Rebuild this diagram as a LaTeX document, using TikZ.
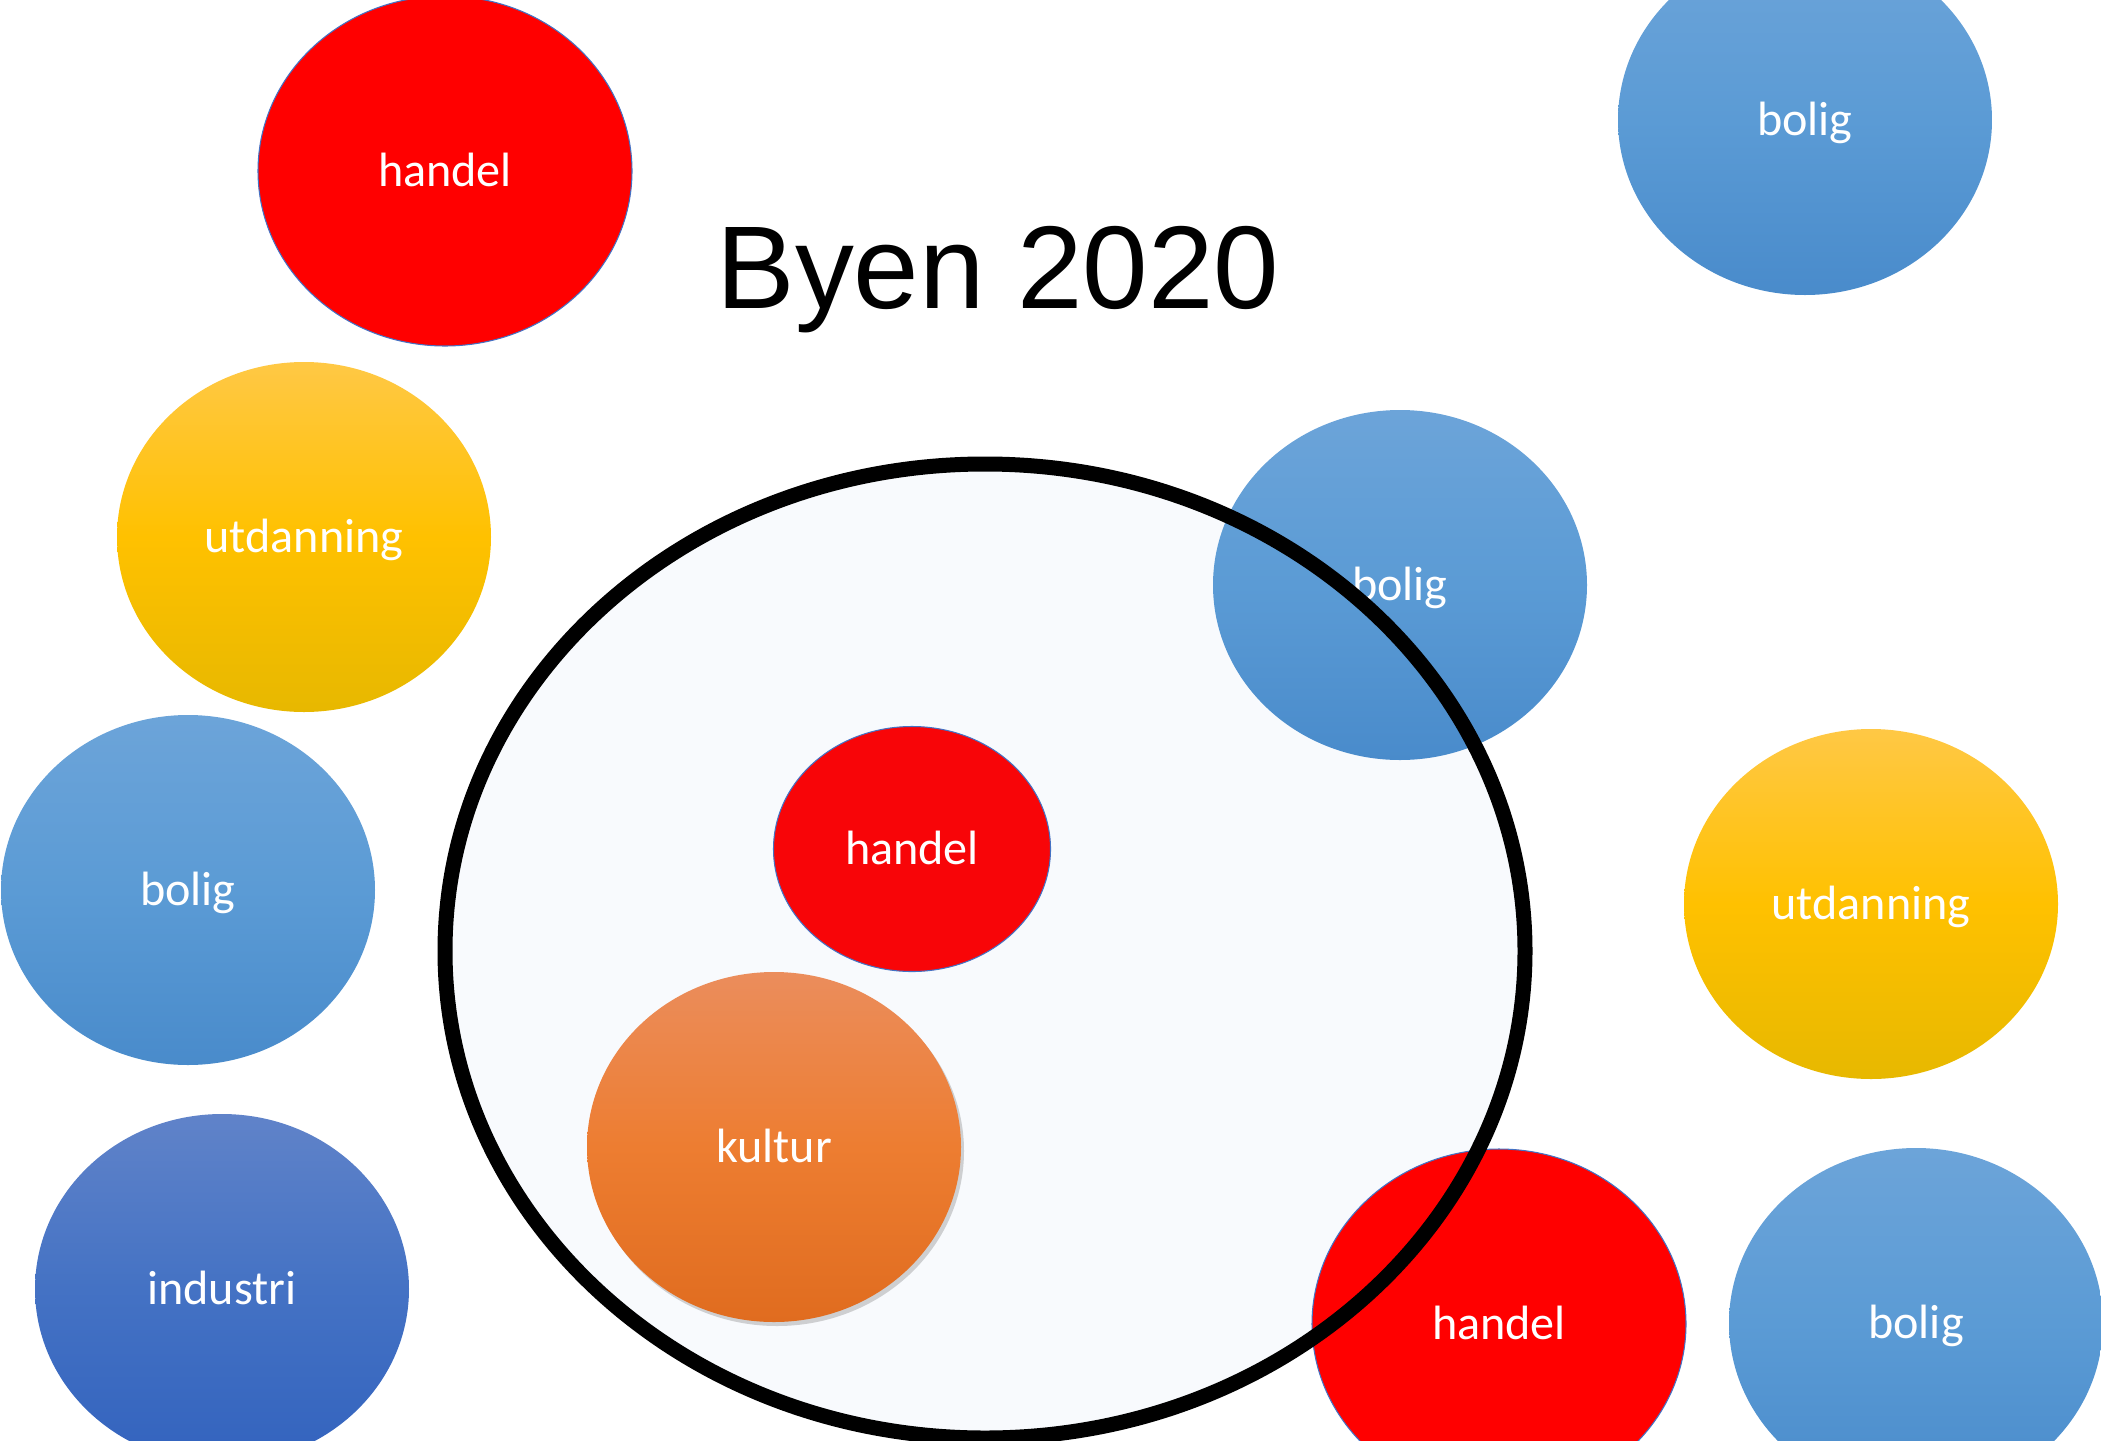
\documentclass[tikz,border=0pt]{standalone}
\usepackage{fontspec}
\setmainfont{Carlito}
\newfontfamily\titlefont{Liberation Sans}
\usetikzlibrary{shapes.geometric}
\usetikzlibrary{shadows}
\usetikzlibrary{backgrounds}
\definecolor{hnd1}{RGB}{255,0,0}
\definecolor{hnd2}{RGB}{248,5,8}
\definecolor{ol1}{RGB}{68,114,196}
\definecolor{bol1}{RGB}{108,164,217}
\definecolor{bol2}{RGB}{91,155,213}
\definecolor{bol3}{RGB}{73,139,203}
\definecolor{ind1}{RGB}{96,131,201}
\definecolor{ind2}{RGB}{68,114,196}
\definecolor{ind3}{RGB}{51,99,190}
\definecolor{utd1}{RGB}{255,200,69}
\definecolor{utd2}{RGB}{255,193,0}
\definecolor{utd3}{RGB}{231,184,0}
\definecolor{kul1}{RGB}{235,141,92}
\definecolor{kul2}{RGB}{237,125,49}
\definecolor{kul3}{RGB}{224,108,31}
\definecolor{bg1}{RGB}{248,250,253}

\begin{document}
\begin{tikzpicture}[
    c/.style={
        ellipse, inner sep=0pt,
        minimum width=3.74cm, minimum height=3.5cm,
        text=white, font={\fontsize{13.7}{16}\selectfont},
        text height=0.3cm, text depth=0cm
    },
    hnd/.style={c, fill=hnd1, draw=ol1, line width=0.3pt},
    bol/.style={c, top color=bol1, bottom color=bol3, middle color=bol2},
    ind/.style={c, top color=ind1, bottom color=ind3, middle color=ind2},
    utd/.style={c, top color=utd1, bottom color=utd3, middle color=utd2},
    kul/.style={c, top color=kul1, bottom color=kul3, middle color=kul2,
        drop shadow={shadow xshift=0.03cm, shadow yshift=-0.04cm, opacity=0.35}},
    city/.style={ellipse, inner sep=0pt, draw=black, line width=0.15cm,
        minimum width=10.8cm, minimum height=9.74cm}
]

    \useasboundingbox (0,0) rectangle (21.01,-14.40);
    \clip (0,0) rectangle (21.01,-14.40);

    \node [font={\titlefont\fontsize{33.5}{40}\selectfont}, anchor=base]
        (title) at (9.98,-3.08) {Byen 2020};

    \node [hnd] (H1) at ( 4.45, -1.71) {handel};
    \node [bol] (B1) at (18.05, -1.20) {bolig};
    \node [utd] (U1) at ( 3.04, -5.37) {utdanning};
    \node [bol] (B2) at ( 1.88, -8.90) {bolig};
    \node [ind] (I1) at ( 2.22,-12.89) {industri};
    \node [bol] (B3) at (14.00, -5.85) {bolig};
    \node [hnd, fill=hnd2, minimum width=2.77cm, minimum height=2.45cm]
        (H2) at ( 9.12, -8.49) {handel};
    \node [kul] (K1) at ( 7.74,-11.47) {kultur};
    \node [hnd] (H3) at (14.99,-13.24) {handel};
    \node [utd] (U2) at (18.71, -9.04) {utdanning};
    \node [bol] (B4) at (19.16,-13.23) {bolig};

    \node [city] (byen) at (9.85,-9.51) {};

    \begin{scope}[on background layer]
        \fill [bg1] (byen.center) ellipse [x radius=5.4cm, y radius=4.87cm];
    \end{scope}

\end{tikzpicture}
\end{document}
